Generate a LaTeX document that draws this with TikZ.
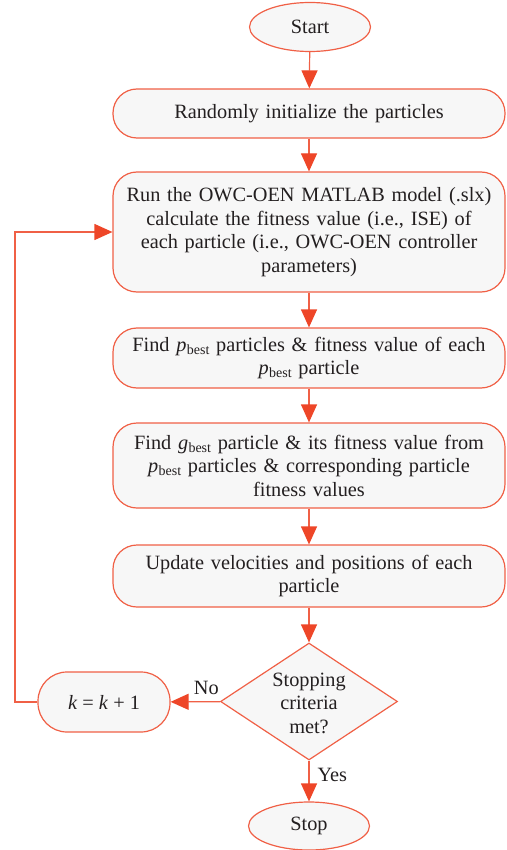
\documentclass[tikz,border=0pt]{standalone}
\usepackage{fontspec}
\setmainfont{Liberation Serif}
\usetikzlibrary{shapes.geometric,arrows.meta}
\definecolor{lineor}{RGB}{240,96,70}
\definecolor{tipor}{RGB}{238,70,40}
\definecolor{boxfill}{RGB}{247,247,247}
\definecolor{txt}{RGB}{35,31,32}
\newcommand{\best}[1]{\textit{#1}\kern0.3pt\raisebox{-0.35ex}{\fontsize{14}{14}\selectfont best}}
\begin{document}
\begin{tikzpicture}[x=1pt,y=1pt,
  base/.style={draw=lineor,line width=1.2pt,fill=boxfill,text=txt,
    font=\fontsize{20.3}{23.5}\selectfont,align=center,inner sep=0pt},
  term/.style={base,ellipse,minimum width=121pt,minimum height=49pt},
  proc/.style={base,rounded corners=24pt,minimum width=392pt,text width=386pt},
  decision/.style={base,diamond,minimum width=177pt,minimum height=117pt},
  flow/.style={draw=lineor,line width=1.2pt,-{Triangle[length=18pt,width=16pt,color=tipor]}},
  lbl/.style={text=txt,font=\fontsize{20.3}{23.5}\selectfont,inner sep=0pt}]
\useasboundingbox (0,0) rectangle (506,-850);
\node[term] (start) at (310,-27) {Start};
\node[proc,minimum height=49pt] (b1) at (309,-113.5) {Randomly initialize the particles};
\node[proc,minimum height=120pt] (b2) at (309,-232) {Run the OWC-OEN MATLAB model (.slx)\\calculate the fitness value (i.e., ISE) of\\each particle (i.e., OWC-OEN controller\\parameters)};
\node[proc,minimum height=60pt] (b3) at (309,-358) {Find \best{p} particles \& fitness value of each\\\best{p} particle};
\node[proc,minimum height=85pt] (b4) at (309,-465.5) {Find \best{g} particle \& its fitness value from\\\best{p} particles \& corresponding particle\\fitness values};
\node[proc,minimum height=62pt] (b5) at (309,-576) {Update velocities and positions of each\\particle};
\node[decision] (dia) at (309,-701.5) {};
\node[lbl,align=center] (diatext) at (309,-703) {Stopping\\criteria\\met?};
\node[base,rounded corners=29pt,minimum width=132pt,minimum height=60pt] (kb) at (104,-702) {\textit{k} = \textit{k} + 1};
\node[term,minimum height=48pt] (stop) at (309,-826) {Stop};
\coordinate (lp) at (15,-702);
\draw[flow] (start) -- (b1);
\draw[flow] (b1) -- (b2);
\draw[flow] (b2) -- (b3);
\draw[flow] (b3) -- (b4);
\draw[flow] (b4) -- (b5);
\draw[flow] (b5) -- (dia);
\draw[flow] (dia) -- (stop) node[lbl,pos=0.35,right=8pt] {Yes};
\draw[flow] (dia) -- (kb) node[lbl,pos=0.28,above=6pt] {No};
\draw[flow] (kb.west) -- (lp) |- (b2.west);
\end{tikzpicture}
\end{document}
